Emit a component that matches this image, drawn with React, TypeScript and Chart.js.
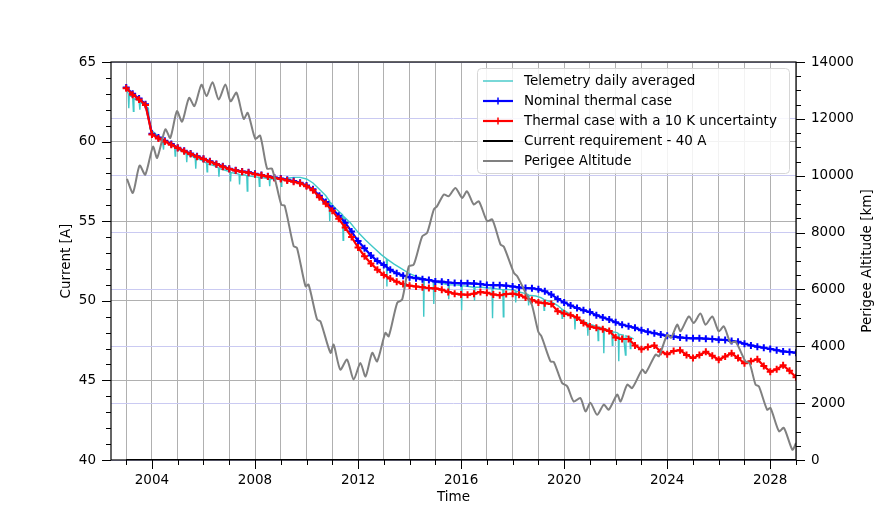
import { useEffect, useRef } from 'react';
import { Chart, registerables } from 'chart.js';

Chart.register(...registerables);

// x axis (years)
const X_MIN = 2002.41;
const X_MAX = 2029.0;
const xTickYears = [
    2003, 2004, 2005, 2006, 2007, 2008, 2009, 2010, 2011, 2012, 2013, 2014, 2015,
    2016, 2017, 2018, 2019, 2020, 2021, 2022, 2023, 2024, 2025, 2026, 2027, 2028, 2029,
];
const xLabelYears = [2004, 2008, 2012, 2016, 2020, 2024, 2028];

// left axis (current)
const currentTicks = [
    40, 41, 42, 43, 44, 45, 46, 47, 48, 49, 50, 51, 52, 53, 54, 55, 56, 57, 58, 59, 60,
    61, 62, 63, 64, 65,
];
const currentLabels = [40, 45, 50, 55, 60, 65];

// right axis (perigee altitude)
const altitudeTicks = [
    0, 500, 1000, 1500, 2000, 2500, 3000, 3500, 4000, 4500, 5000, 5500, 6000, 6500, 7000,
    7500, 8000, 8500, 9000, 9500, 10000, 10500, 11000, 11500, 12000, 12500, 13000, 13500, 14000,
];
const altitudeLabels = [0, 2000, 4000, 6000, 8000, 10000, 12000, 14000];

// thermal model cases, quarterly
const thermalYears = [
    2003, 2003.25, 2003.5, 2003.75, 2004, 2004.25, 2004.5, 2004.75,
    2005, 2005.25, 2005.5, 2005.75, 2006, 2006.25, 2006.5, 2006.75,
    2007, 2007.25, 2007.5, 2007.75, 2008, 2008.25, 2008.5, 2008.75,
    2009, 2009.25, 2009.5, 2009.75, 2010, 2010.25, 2010.5, 2010.75,
    2011, 2011.25, 2011.5, 2011.75, 2012, 2012.25, 2012.5, 2012.75,
    2013, 2013.25, 2013.5, 2013.75, 2014, 2014.25, 2014.5, 2014.75,
    2015, 2015.25, 2015.5, 2015.75, 2016, 2016.25, 2016.5, 2016.75,
    2017, 2017.25, 2017.5, 2017.75, 2018, 2018.25, 2018.5, 2018.75,
    2019, 2019.25, 2019.5, 2019.75, 2020, 2020.25, 2020.5, 2020.75,
    2021, 2021.25, 2021.5, 2021.75, 2022, 2022.25, 2022.5, 2022.75,
    2023, 2023.25, 2023.5, 2023.75, 2024, 2024.25, 2024.5, 2024.75,
    2025, 2025.25, 2025.5, 2025.75, 2026, 2026.25, 2026.5, 2026.75,
    2027, 2027.25, 2027.5, 2027.75, 2028, 2028.25, 2028.5, 2028.75,
    2029,
];
const nominalCurrent = [
    63.4, 63.0, 62.7, 62.35, 60.5, 60.25, 60.05, 59.85,
    59.62, 59.42, 59.25, 59.08, 58.92, 58.76, 58.6, 58.45,
    58.3, 58.2, 58.12, 58.08, 57.98, 57.9, 57.82, 57.75,
    57.68, 57.6, 57.52, 57.42, 57.25, 57.0, 56.6, 56.2,
    55.8, 55.35, 54.9, 54.35, 53.75, 53.3, 52.85, 52.5,
    52.25, 51.95, 51.73, 51.58, 51.48, 51.42, 51.36, 51.3,
    51.22, 51.2, 51.15, 51.12, 51.1, 51.1, 51.08, 51.05,
    51.0, 50.98, 50.98, 50.95, 50.9, 50.84, 50.8, 50.79,
    50.72, 50.6, 50.4, 50.12, 49.9, 49.7, 49.55, 49.4,
    49.3, 49.1, 48.95, 48.82, 48.65, 48.5, 48.4, 48.3,
    48.15, 48.05, 47.96, 47.88, 47.8, 47.75, 47.7, 47.66,
    47.64, 47.64, 47.62, 47.6, 47.56, 47.54, 47.48, 47.42,
    47.3, 47.2, 47.12, 47.05, 46.98, 46.9, 46.82, 46.78,
    46.74,
];
const uncertaintyCurrent = [
    63.35, 62.95, 62.65, 62.3, 60.45, 60.2, 60.0, 59.8,
    59.6, 59.4, 59.22, 59.05, 58.9, 58.74, 58.58, 58.42,
    58.28, 58.18, 58.1, 58.05, 57.95, 57.88, 57.8, 57.72,
    57.65, 57.56, 57.48, 57.38, 57.2, 56.95, 56.5, 56.1,
    55.65, 55.15, 54.6, 54.0, 53.35, 52.8, 52.35, 51.95,
    51.62, 51.4, 51.2, 51.05, 50.95, 50.9, 50.85, 50.8,
    50.78, 50.7, 50.55, 50.45, 50.4, 50.38, 50.45, 50.55,
    50.5, 50.4, 50.35, 50.42, 50.45, 50.38, 50.2, 50.05,
    49.9, 49.85, 49.8, 49.35, 49.2, 49.1, 48.95, 48.6,
    48.38, 48.3, 48.22, 48.1, 47.7, 47.6, 47.6, 47.2,
    46.95, 47.1, 47.2, 46.8, 46.65, 46.85, 46.9, 46.6,
    46.4, 46.6, 46.8, 46.55, 46.3, 46.5, 46.7, 46.4,
    46.07, 46.2, 46.33, 45.9, 45.55, 45.7, 45.95, 45.6,
    45.2,
];

// requirement line
const requirementYears = [2003, 2029];
const requirementCurrent = [40, 40];

// telemetry daily averaged [year, A]
const telemetryDaily: [number, number][] = [
    [2003.0, 63.3], [2003.08, 63.0], [2003.1, 62.1], [2003.12, 62.9], [2003.25, 62.8],
    [2003.28, 61.9], [2003.3, 62.7], [2003.5, 62.55], [2003.53, 62.0], [2003.55, 62.5],
    [2003.75, 62.2], [2003.86, 62.1], [2003.92, 60.8], [2004.0, 60.7], [2004.2, 60.4],
    [2004.4, 60.15], [2004.45, 59.5], [2004.47, 60.1], [2004.7, 59.85], [2004.88, 59.65],
    [2004.9, 59.1], [2004.92, 59.6], [2005.1, 59.45], [2005.33, 59.25], [2005.35, 58.7],
    [2005.37, 59.2], [2005.55, 59.1], [2005.68, 58.95], [2005.7, 58.3], [2005.72, 58.95],
    [2005.95, 58.8], [2006.12, 58.65], [2006.14, 58.1], [2006.16, 58.6], [2006.4, 58.5],
    [2006.58, 58.35], [2006.6, 57.8], [2006.62, 58.3], [2006.85, 58.2], [2007.03, 58.1],
    [2007.05, 57.5], [2007.07, 58.05], [2007.25, 58.0], [2007.38, 57.95], [2007.4, 57.3],
    [2007.42, 57.9], [2007.62, 57.9], [2007.68, 57.85], [2007.7, 56.9], [2007.72, 57.85],
    [2007.95, 57.8], [2008.15, 57.75], [2008.17, 57.2], [2008.19, 57.75], [2008.45, 57.7],
    [2008.55, 57.65], [2008.57, 57.2], [2008.59, 57.65], [2008.85, 57.65], [2009.0, 57.6],
    [2009.02, 57.2], [2009.04, 57.6], [2009.25, 57.7], [2009.5, 57.75], [2009.75, 57.75],
    [2010.0, 57.65], [2010.25, 57.4], [2010.5, 57.0], [2010.75, 56.6], [2010.88, 56.3],
    [2010.9, 55.0], [2010.92, 56.2], [2011.1, 55.85], [2011.4, 55.4], [2011.42, 53.8],
    [2011.44, 55.3], [2011.7, 54.9], [2012.0, 54.3], [2012.3, 53.8], [2012.6, 53.35],
    [2012.9, 52.9], [2013.1, 52.65], [2013.12, 50.9], [2013.14, 52.6], [2013.4, 52.3],
    [2013.7, 52.0], [2014.0, 51.7], [2014.3, 51.5], [2014.53, 51.4], [2014.55, 49.0],
    [2014.57, 51.35], [2014.8, 51.3], [2014.92, 51.25], [2014.94, 49.8], [2014.96, 51.2],
    [2015.25, 51.1], [2015.5, 51.0], [2015.52, 50.1], [2015.54, 51.0], [2015.8, 51.0],
    [2016.0, 50.95], [2016.02, 49.4], [2016.04, 50.95], [2016.3, 50.9], [2016.5, 50.85],
    [2016.52, 50.0], [2016.54, 50.85], [2016.8, 50.85], [2017.05, 50.8], [2017.2, 50.8],
    [2017.22, 48.9], [2017.24, 50.8], [2017.55, 50.7], [2017.62, 50.7], [2017.64, 49.0],
    [2017.66, 50.7], [2017.9, 50.7], [2018.1, 50.65], [2018.12, 49.9], [2018.14, 50.6],
    [2018.4, 50.5], [2018.6, 50.4], [2018.62, 49.7], [2018.64, 50.35], [2018.9, 50.3],
    [2019.1, 50.2], [2019.2, 50.1], [2019.22, 49.4], [2019.24, 50.05], [2019.5, 49.95],
    [2019.75, 49.7], [2019.9, 49.5], [2019.92, 48.9], [2019.94, 49.45], [2020.2, 49.2],
    [2020.4, 49.0], [2020.42, 48.2], [2020.44, 48.95], [2020.65, 48.8], [2020.9, 48.6],
    [2020.92, 47.8], [2020.94, 48.55], [2021.15, 48.45], [2021.3, 48.4], [2021.32, 47.5],
    [2021.34, 48.35], [2021.52, 48.3], [2021.54, 46.7], [2021.56, 48.25], [2021.75, 48.15],
    [2021.85, 48.1], [2021.87, 47.2], [2021.89, 48.05], [2022.05, 48.0], [2022.1, 47.95],
    [2022.12, 46.2], [2022.14, 47.9], [2022.3, 47.85], [2022.38, 46.6], [2022.4, 47.8],
    [2022.55, 47.7], [2022.57, 47.0], [2022.59, 47.7], [2022.7, 47.6],
];

// perigee altitude track [year, km]
const perigeeTrack: [number, number][] = [
    [2003.03, 9890], [2003.26, 9400], [2003.52, 10360], [2003.74, 10040], [2004.04, 11020],
    [2004.2, 10630], [2004.52, 11630], [2004.71, 11330], [2004.97, 12270], [2005.17, 11900],
    [2005.44, 12740], [2005.65, 12450], [2005.92, 13200], [2006.12, 12800], [2006.35, 13290],
    [2006.59, 12680], [2006.85, 13210], [2007.05, 12620], [2007.28, 12920], [2007.56, 12000],
    [2007.72, 12210], [2008.01, 11300], [2008.2, 11410], [2008.47, 10250], [2008.66, 10250],
    [2009.02, 8980], [2009.15, 8950], [2009.5, 7520], [2009.63, 7460], [2009.96, 6110],
    [2010.08, 6170], [2010.41, 4940], [2010.54, 4880], [2010.93, 3770], [2011.05, 4060],
    [2011.31, 3180], [2011.57, 3530], [2011.83, 2830], [2012.09, 3410], [2012.29, 2940],
    [2012.55, 3770], [2012.74, 3470], [2013.06, 4470], [2013.19, 4350], [2013.52, 5530],
    [2013.71, 5640], [2013.97, 6810], [2014.16, 6870], [2014.49, 7870], [2014.68, 7990],
    [2014.94, 8810], [2015.07, 8930], [2015.33, 9340], [2015.52, 9280], [2015.78, 9570],
    [2016.04, 9220], [2016.23, 9450], [2016.49, 8990], [2016.69, 9100], [2017.01, 8400],
    [2017.21, 8460], [2017.53, 7580], [2017.66, 7500], [2018.05, 6580], [2018.18, 6460],
    [2018.57, 5760], [2018.75, 5450], [2019.0, 4500], [2019.12, 4350], [2019.47, 3470],
    [2019.6, 3450], [2019.92, 2710], [2020.12, 2590], [2020.37, 2060], [2020.63, 2180],
    [2020.83, 1710], [2021.02, 2010], [2021.28, 1590], [2021.54, 1950], [2021.73, 1770],
    [2022.06, 2300], [2022.19, 2060], [2022.45, 2650], [2022.64, 2530], [2023.03, 3180],
    [2023.16, 3060], [2023.55, 3710], [2023.68, 3650], [2024.0, 4400], [2024.15, 4300],
    [2024.39, 4760], [2024.52, 4530], [2024.84, 5050], [2025.03, 4820], [2025.29, 5150],
    [2025.49, 4760], [2025.75, 5050], [2026.0, 4530], [2026.2, 4700], [2026.46, 4120],
    [2026.65, 4170], [2027.04, 3470], [2027.2, 3400], [2027.43, 2650], [2027.56, 2590],
    [2027.88, 1770], [2028.01, 1830], [2028.34, 1010], [2028.53, 1130], [2028.86, 360],
    [2029.0, 600],
];

const FONT = "'DejaVu Sans', sans-serif";
const GRID_GRAY = '#b0b0b0';
const GRID_BLUE = '#cacaf2';
const MAJOR_TICK = 9;
const MINOR_TICK = 5;

const toPoints = (xs: number[], ys: number[]) => xs.map((x, i) => ({ x, y: ys[i] }));
const pairPoints = (pairs: [number, number][]) => pairs.map(([x, y]) => ({ x, y }));

// tick marks, frame and right-hand title
const axisDecor = {
    id: 'axisDecor',
    afterDraw(chart: Chart) {
        const { ctx, chartArea, scales } = chart;
        const { left, right, top, bottom } = chartArea;
        ctx.save();
        ctx.strokeStyle = '#000';
        ctx.lineWidth = 1;
        ctx.beginPath();
        xTickYears.forEach((v) => {
            const px = Math.round(scales.x.getPixelForValue(v)) + 0.5;
            const len = xLabelYears.includes(v) ? MAJOR_TICK : MINOR_TICK;
            ctx.moveTo(px, bottom);
            ctx.lineTo(px, bottom + len);
        });
        currentTicks.forEach((v) => {
            const py = Math.round(scales.y.getPixelForValue(v)) + 0.5;
            const len = currentLabels.includes(v) ? MAJOR_TICK : MINOR_TICK;
            ctx.moveTo(left, py);
            ctx.lineTo(left - len, py);
        });
        altitudeTicks.forEach((v) => {
            const py = Math.round(scales.y2.getPixelForValue(v)) + 0.5;
            const len = altitudeLabels.includes(v) ? MAJOR_TICK : MINOR_TICK;
            ctx.moveTo(right, py);
            ctx.lineTo(right + len, py);
        });
        ctx.stroke();
        ctx.lineWidth = 1.2;
        ctx.strokeRect(left, top, right - left, bottom - top);

        ctx.fillStyle = '#000';
        ctx.font = `13.5px ${FONT}`;
        ctx.textAlign = 'center';
        ctx.textBaseline = 'middle';
        ctx.translate(867, (top + bottom) / 2);
        ctx.rotate(-Math.PI / 2);
        ctx.fillText('Perigee Altitude [km]', 0, 0);
        ctx.restore();
    },
};

// legend box inside the plot, upper right
const legendOrder = [4, 3, 2, 1, 0];
const legendBox = {
    id: 'legendBox',
    afterDraw(chart: Chart) {
        const { ctx, chartArea } = chart;
        const w = 312;
        const h = 105;
        const bx = chartArea.right - 7 - w;
        const by = chartArea.top + 6;
        ctx.save();
        ctx.beginPath();
        ctx.roundRect(bx + 0.5, by + 0.5, w, h, 4);
        ctx.fillStyle = 'rgba(255,255,255,0.85)';
        ctx.fill();
        ctx.strokeStyle = '#d6d6d6';
        ctx.lineWidth = 1;
        ctx.stroke();

        ctx.font = `13.5px ${FONT}`;
        ctx.textBaseline = 'middle';
        ctx.textAlign = 'left';
        legendOrder.forEach((dsIndex, i) => {
            const ds: any = chart.data.datasets[dsIndex];
            const ly = by + 13 + i * 20;
            ctx.strokeStyle = ds.borderColor;
            ctx.lineWidth = ds.borderWidth;
            ctx.beginPath();
            ctx.moveTo(bx + 6, ly);
            ctx.lineTo(bx + 36, ly);
            ctx.stroke();
            if (ds.pointStyle === 'cross') {
                ctx.lineWidth = 1.5;
                ctx.beginPath();
                ctx.moveTo(bx + 21, ly - 3.5);
                ctx.lineTo(bx + 21, ly + 3.5);
                ctx.moveTo(bx + 17.5, ly);
                ctx.lineTo(bx + 24.5, ly);
                ctx.stroke();
            }
            ctx.fillStyle = '#000';
            ctx.fillText(ds.label, bx + 47, ly + 0.5);
        });
        ctx.restore();
    },
};

export default function App() {
    const canvasRef = useRef<HTMLCanvasElement | null>(null);
    const chartRef = useRef<Chart | null>(null);

    useEffect(() => {
        if (!canvasRef.current) return;
        Chart.defaults.font.family = FONT;
        Chart.defaults.font.size = 13.5;
        Chart.defaults.color = '#000';

        if (chartRef.current) chartRef.current.destroy();

        chartRef.current = new Chart(canvasRef.current, {
            type: 'line',
            data: {
                datasets: [
                    {
                        label: 'Perigee Altitude',
                        data: pairPoints(perigeeTrack),
                        yAxisID: 'y2',
                        borderColor: '#808080',
                        borderWidth: 2,
                        pointRadius: 0,
                        tension: 0.25,
                        order: 0,
                    },
                    {
                        label: 'Current requirement - 40 A',
                        data: toPoints(requirementYears, requirementCurrent),
                        yAxisID: 'y',
                        borderColor: '#000000',
                        borderWidth: 2,
                        pointRadius: 0,
                        order: 1,
                    },
                    {
                        label: 'Thermal case with a 10 K uncertainty',
                        data: toPoints(thermalYears, uncertaintyCurrent),
                        yAxisID: 'y',
                        borderColor: '#ff0000',
                        backgroundColor: '#ff0000',
                        borderWidth: 2.2,
                        pointStyle: 'cross',
                        pointRadius: 3.5,
                        pointBorderWidth: 2,
                        order: 2,
                    },
                    {
                        label: 'Nominal thermal case',
                        data: toPoints(thermalYears, nominalCurrent),
                        yAxisID: 'y',
                        borderColor: '#0000ff',
                        backgroundColor: '#0000ff',
                        borderWidth: 2.2,
                        pointStyle: 'cross',
                        pointRadius: 3.5,
                        pointBorderWidth: 2,
                        order: 3,
                    },
                    {
                        label: 'Telemetry daily averaged',
                        data: pairPoints(telemetryDaily),
                        yAxisID: 'y',
                        borderColor: '#40c8c8',
                        borderWidth: 1.4,
                        pointRadius: 0,
                        order: 4,
                    },
                ],
            },
            options: {
                responsive: false,
                maintainAspectRatio: false,
                animation: false,
                layout: { padding: { top: 62, left: 0, right: 0, bottom: 0 } },
                plugins: {
                    legend: { display: false },
                    tooltip: { enabled: false },
                },
                scales: {
                    x: {
                        type: 'linear',
                        min: X_MIN,
                        max: X_MAX,
                        afterBuildTicks: (s: any) => {
                            s.ticks = xTickYears.map((v) => ({ value: v }));
                        },
                        afterFit: (s: any) => {
                            s.height = 57;
                        },
                        ticks: {
                            autoSkip: false,
                            maxRotation: 0,
                            padding: 12,
                            callback: (v: any) => (xLabelYears.includes(Number(v)) ? String(v) : ''),
                        },
                        grid: { color: GRID_GRAY, lineWidth: 1, drawTicks: false },
                        border: { display: false },
                        title: {
                            display: true,
                            text: 'Time',
                            font: { size: 13.5 },
                            padding: { top: 0, bottom: 11 },
                        },
                    },
                    y: {
                        type: 'linear',
                        position: 'left',
                        min: 40,
                        max: 65,
                        afterBuildTicks: (s: any) => {
                            s.ticks = currentTicks.map((v) => ({ value: v }));
                        },
                        afterFit: (s: any) => {
                            s.width = 111;
                        },
                        ticks: {
                            autoSkip: false,
                            padding: 15,
                            callback: (v: any) => (currentLabels.includes(Number(v)) ? String(v) : ''),
                        },
                        grid: {
                            drawTicks: false,
                            lineWidth: 1,
                            color: (c: any) =>
                                c.tick && currentLabels.includes(c.tick.value) ? GRID_GRAY : 'rgba(0,0,0,0)',
                        },
                        border: { display: false },
                        title: {
                            display: true,
                            text: 'Current [A]',
                            font: { size: 13.5 },
                            padding: { top: 58, bottom: 0 },
                        },
                    },
                    y2: {
                        type: 'linear',
                        position: 'right',
                        min: 0,
                        max: 14000,
                        afterBuildTicks: (s: any) => {
                            s.ticks = altitudeTicks.map((v) => ({ value: v }));
                        },
                        afterFit: (s: any) => {
                            s.width = 89;
                        },
                        ticks: {
                            autoSkip: false,
                            padding: 15,
                            callback: (v: any) => (altitudeLabels.includes(Number(v)) ? String(v) : ''),
                        },
                        grid: {
                            drawTicks: false,
                            lineWidth: 1,
                            color: (c: any) =>
                                c.tick && altitudeLabels.includes(c.tick.value) ? GRID_BLUE : 'rgba(0,0,0,0)',
                        },
                        border: { display: false },
                    },
                },
            } as any,
            plugins: [axisDecor, legendBox],
        });

        return () => {
            if (chartRef.current) {
                chartRef.current.destroy();
                chartRef.current = null;
            }
        };
    }, []);

    return (
        <div style={{ position: 'absolute', left: 0, top: 0, width: 885, height: 517, background: '#fff' }}>
            <canvas ref={canvasRef} width={885} height={517} style={{ display: 'block', width: 885, height: 517 }} />
        </div>
    );
}
